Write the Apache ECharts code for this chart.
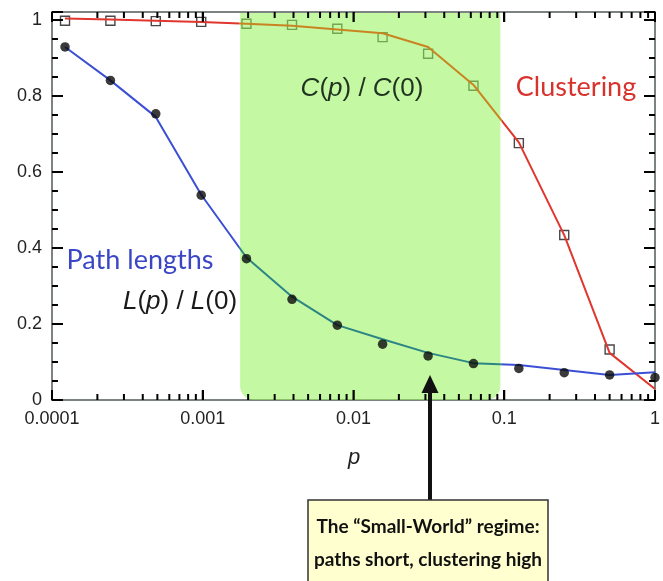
<!DOCTYPE html>
<html>
<head>
<meta charset="utf-8">
<script src="https://cdn.jsdelivr.net/npm/echarts@6/dist/echarts.min.js"></script>
<style>html,body{margin:0;padding:0;background:#fff;}#chart{width:663px;height:581px;}</style>
</head>
<body>
<div id="chart"></div>
<script>
// ---- data ----
const pValues = [0.000122, 0.000244, 0.000488, 0.000977, 0.00195, 0.00391, 0.00781, 0.0156, 0.03125, 0.0625, 0.125, 0.25, 0.5, 1];
const clusteringPoints = [0.998, 0.998, 0.997, 0.995, 0.99, 0.987, 0.977, 0.955, 0.911, 0.827, 0.676, 0.434, 0.133, null];
const clusteringCurve = [1.004, 1.001, 0.998, 0.995, 0.99, 0.985, 0.975, 0.965, 0.929, 0.829, 0.678, 0.434, 0.124, 0.029];
const pathPoints = [0.929, 0.841, 0.753, 0.539, 0.372, 0.265, 0.197, 0.147, 0.116, 0.096, 0.083, 0.072, 0.066, 0.059];
const pathCurve = [0.929, 0.841, 0.745, 0.54, 0.375, 0.272, 0.197, 0.16, 0.124, 0.097, 0.092, 0.079, 0.066, 0.073];
const regionBounds = [0.00177, 0.0942];
const xMajorTicks = [0.0001, 0.001, 0.01, 0.1, 1];
const xTickLabels = ['0.0001', '0.001', '0.01', '0.1', '1'];
const xMinorTicks = [0.0002, 0.0003, 0.0004, 0.0005, 0.0006, 0.0007, 0.0008, 0.0009,
  0.002, 0.003, 0.004, 0.005, 0.006, 0.007, 0.008, 0.009,
  0.02, 0.03, 0.04, 0.05, 0.06, 0.07, 0.08, 0.09,
  0.2, 0.3, 0.4, 0.5, 0.6, 0.7, 0.8, 0.9];
const yMajorTicks = [0, 0.2, 0.4, 0.6, 0.8, 1];
const yTickLabels = ['0', '0.2', '0.4', '0.6', '0.8', '1'];
const yMinorTicks = [0.05, 0.1, 0.15, 0.25, 0.3, 0.35, 0.45, 0.5, 0.55, 0.65, 0.7, 0.75, 0.85, 0.9, 0.95];
const xMin = 0.0001, xMax = 1, yMax = 1.021;

const frameColor = '#7d8383';
const tickColor = '#000000';
const labelFont = {fontFamily: 'Liberation Sans', fontSize: 18, color: '#222'};

function pairs(ys) { return pValues.map((p, i) => [p, ys[i]]).filter(d => d[1] !== null); }

const mainSeries = [
  {
    name: 'C points', type: 'scatter', data: pairs(clusteringPoints), symbol: 'rect', symbolSize: 9, z: 2,
    itemStyle: {color: 'rgba(0,0,0,0)', borderColor: '#1a1a1a', borderWidth: 1.4}
  },
  {
    name: 'Small-world region', type: 'custom', z: 3, silent: true,
    data: [[regionBounds[0], regionBounds[1]]],
    renderItem: function (params, api) {
      const a = api.coord([api.value(0), yMax]);
      const b = api.coord([api.value(1), 0]);
      return {
        type: 'rect',
        shape: {x: a[0], y: a[1] + 1, width: b[0] - a[0], height: b[1] - a[1] - 1, r: [0, 0, 14, 14]},
        style: {fill: 'rgba(148,242,86,0.55)'}
      };
    }
  },
  {
    name: 'C curve', type: 'line', data: pairs(clusteringCurve), showSymbol: false, symbol: 'none', z: 4,
    lineStyle: {width: 2, color: '#e1362e'}
  },
  {
    name: 'L curve', type: 'line', data: pairs(pathCurve), showSymbol: false, symbol: 'none', z: 4,
    lineStyle: {width: 2, color: '#3b4fd4'}
  },
  {
    name: 'L points', type: 'scatter', data: pairs(pathPoints), symbol: 'circle', symbolSize: 9.5, z: 5,
    itemStyle: {color: '#0a0a0a'}
  }
];

function xAxisDef(pos, labels) {
  return {
    type: 'log', logBase: 10, min: xMin, max: xMax, position: pos,
    axisLine: {show: true, onZero: false, lineStyle: {color: frameColor, width: 2}},
    axisTick: {show: true, inside: true, length: 10, lineStyle: {color: tickColor, width: 2}},
    axisLabel: labels ? Object.assign({show: true, margin: 10, showMaxLabel: true,
      formatter: v => { const i = xMajorTicks.findIndex(t => Math.abs(Math.log10(t) - Math.log10(v)) < 1e-6); return i >= 0 ? xTickLabels[i] : ''; }}, labelFont) : {show: false},
    splitLine: {show: false}
  };
}
function yAxisDef(pos, labels) {
  return {
    type: 'value', min: 0, max: yMax, interval: 0.2, position: pos,
    axisLine: {show: true, onZero: false, lineStyle: {color: frameColor, width: 2}},
    axisTick: {show: true, inside: true, length: 11, lineStyle: {color: tickColor, width: 2}},
    axisLabel: labels ? Object.assign({show: true, margin: 10,
      formatter: v => { const i = yMajorTicks.findIndex(t => Math.abs(t - v) < 1e-6); return i >= 0 ? yTickLabels[i] : ''; }}, labelFont) : {show: false},
    splitLine: {show: false}
  };
}

const annotations = [
  {type: 'text', x: 576, y: 87, z: 10, style: {text: 'Clustering', font: '27px Lato', fill: '#d8322c', align: 'center', verticalAlign: 'middle'}},
  {type: 'text', x: 140, y: 260, z: 10, style: {text: 'Path lengths', font: '27px Lato', fill: '#3b46c6', align: 'center', verticalAlign: 'middle'}},
  {type: 'text', x: 362, y: 89, z: 10, style: {
    text: '{i|C}{n|(}{i|p}{n|) / }{i|C}{n|(0)}', align: 'center', verticalAlign: 'middle',
    rich: {i: {font: 'italic 26px "Liberation Sans"', fill: '#1f3320'}, n: {font: '26px "Liberation Sans"', fill: '#1f3320'}}}},
  {type: 'text', x: 180, y: 302, z: 10, style: {
    text: '{i|L}{n|(}{i|p}{n|) / }{i|L}{n|(0)}', align: 'center', verticalAlign: 'middle',
    rich: {i: {font: 'italic 26px "Liberation Sans"', fill: '#1a1a1a'}, n: {font: '26px "Liberation Sans"', fill: '#1a1a1a'}}}},
  {type: 'text', x: 354, y: 458, z: 10, style: {text: 'p', font: 'italic 22px "Liberation Sans"', fill: '#222', align: 'center', verticalAlign: 'middle'}},
  {type: 'line', z: 10, shape: {x1: 430, y1: 390, x2: 430, y2: 500}, style: {stroke: '#111', lineWidth: 4}},
  {type: 'polygon', z: 10, shape: {points: [[430, 375], [421.5, 393], [438.5, 393]]}, style: {fill: '#111'}},
  {type: 'rect', z: 10, shape: {x: 308, y: 500, width: 240, height: 95}, style: {fill: '#ffffcf', stroke: '#333', lineWidth: 1.5}},
  {type: 'text', x: 428, y: 527, z: 11, style: {text: 'The \u201cSmall-World\u201d regime:', font: 'bold 19px Lato', fill: '#111', align: 'center', verticalAlign: 'middle'}},
  {type: 'text', x: 428, y: 560, z: 11, style: {text: 'paths short, clustering high', font: 'bold 19px Lato', fill: '#111', align: 'center', verticalAlign: 'middle'}}
];

const chart = echarts.init(document.getElementById('chart'), null, {renderer: 'canvas'});
chart.setOption({
  animation: false,
  grid: {left: 52, right: 3, top: 12, bottom: 181},
  xAxis: [xAxisDef('bottom', true), xAxisDef('top', false)],
  yAxis: [yAxisDef('left', true), yAxisDef('right', false)],
  series: mainSeries
});

// positions from the axes' own scales
const px = v => chart.convertToPixel({xAxisIndex: 0}, v);
const py = v => chart.convertToPixel({yAxisIndex: 0}, v);

// minor tick marks on all four sides, placed through the scales
function tickLine(x1, y1, x2, y2, w) {
  return {type: 'line', z: 12, silent: true, shape: {x1: x1, y1: y1, x2: x2, y2: y2}, style: {stroke: tickColor, lineWidth: w}};
}
const yB = py(0), yT = py(yMax), xL = px(xMin), xR = px(xMax);
const ticks = [];
xMajorTicks.forEach(t => { const x = px(t); ticks.push(tickLine(x, yB, x, yB - 10, 2), tickLine(x, yT, x, yT + 10, 2)); });
xMinorTicks.forEach(t => { const x = px(t); ticks.push(tickLine(x, yB, x, yB - 6, 2), tickLine(x, yT, x, yT + 6, 2)); });
yMajorTicks.forEach(t => { const y = py(t); ticks.push(tickLine(xL, y, xL + 11, y, 2), tickLine(xR, y, xR - 11, y, 2)); });
yMinorTicks.forEach(t => { const y = py(t); ticks.push(tickLine(xL, y, xL + 6, y, 2), tickLine(xR, y, xR - 6, y, 2)); });

// colour the curve segments that lie inside the shaded regime
function segmentGradient(outside, inside) {
  const x0 = px(pValues[0]);
  const x1 = px(pValues[pValues.length - 1]);
  const s0 = (px(regionBounds[0]) - x0) / (x1 - x0);
  const s1 = (px(regionBounds[1]) - x0) / (x1 - x0);
  return new echarts.graphic.LinearGradient(0, 0, 1, 0, [
    {offset: 0, color: outside}, {offset: s0, color: outside}, {offset: s0, color: inside},
    {offset: s1, color: inside}, {offset: s1, color: outside}, {offset: 1, color: outside}
  ]);
}
const upd = mainSeries.map(() => ({}));
upd[2] = {lineStyle: {color: segmentGradient('#e1362e', '#c98421')}};
upd[3] = {lineStyle: {color: segmentGradient('#3b4fd4', '#2c8584')}};
chart.setOption({series: upd, graphic: annotations.concat(ticks)});
</script>
</body>
</html>
